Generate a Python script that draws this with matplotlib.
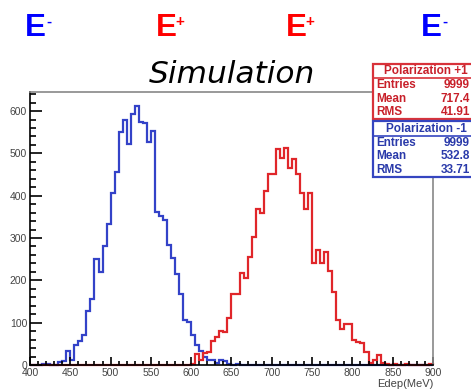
import numpy as np
import matplotlib
matplotlib.use("Agg")
import matplotlib.pyplot as plt
from matplotlib.patches import Rectangle

# histogram binning (Edep, MeV)
bin_lo, bin_hi, bin_w = 400, 900, 5

# Polarization -1 (blue), counts per 5 MeV bin starting at 415 MeV
blue_first = 415
blue_counts = [2, 3, 0, 0, 6, 9, 33, 11, 47, 57, 70, 127, 155, 250, 219, 281, 332,
               407, 455, 550, 578, 522, 593, 612, 574, 571, 528, 553, 361, 353,
               343, 284, 253, 216, 167, 107, 101, 71, 48, 33, 20, 12, 12, 4, 11,
               10, 2, 0, 3]

# Polarization +1 (red), counts per 5 MeV bin starting at 600 MeV
red_first = 600
red_counts = [2, 25, 12, 28, 30, 57, 67, 80, 78, 112, 168, 168, 217, 206, 255, 303,
              368, 358, 410, 451, 452, 510, 490, 513, 465, 487, 452, 407, 368, 407,
              241, 272, 242, 266, 221, 173, 106, 84, 97, 97, 58, 54, 52, 31, 4, 12,
              23, 5, 3, 1, 2, 1, 1, 2, 1, 1, 0, 1, 1, 3]

# stat boxes
stats_red = ("Polarization +1", [("Entries", "9999"), ("Mean", "717.4"), ("RMS", "41.91")])
stats_blue = ("Polarization -1", [("Entries", "9999"), ("Mean", "532.8"), ("RMS", "33.71")])

xticks = [400, 450, 500, 550, 600, 650, 700, 750, 800, 850, 900]
yticks = [0, 100, 200, 300, 400, 500, 600]

BLUE = "#3342c8"
RED = "#e0262a"

edges = np.arange(bin_lo, bin_hi + bin_w, bin_w)
nbins = len(edges) - 1


def full_hist(first, counts):
    h = np.zeros(nbins)
    i = (first - bin_lo) // bin_w
    h[i:i + len(counts)] = counts
    return h


W, H = 471, 391
fig = plt.figure(figsize=(W / 100, H / 100), dpi=100)
plt.rcParams['font.family'] = ['Liberation Sans', 'DejaVu Sans']

ax = fig.add_axes([30 / W, 1 - 365 / H, (433 - 30) / W, (365 - 92) / H])
ax.stairs(full_hist(blue_first, blue_counts), edges, color=BLUE, lw=1.6, clip_on=False)
ax.stairs(full_hist(red_first, red_counts), edges, color=RED, lw=1.6, clip_on=False)

ax.set_xlim(400, 900)
ax.set_ylim(0, 645)
ax.set_xticks(xticks)
ax.set_yticks(yticks)
ax.set_xticks(np.arange(400, 901, 10), minor=True)
ax.set_yticks(np.arange(0, 641, 20), minor=True)
ax.tick_params(axis='y', which='major', direction='in', length=8.5, width=1.2,
               labelsize=7.5, labelcolor='#444444', pad=2)
ax.tick_params(axis='y', which='minor', direction='in', length=4.5, width=1.2)
ax.tick_params(axis='x', which='major', direction='in', length=5.5, width=1.2,
               labelsize=7.5, labelcolor='#444444', pad=2)
ax.tick_params(axis='x', which='minor', direction='in', length=3, width=1.2)
for s in ('left', 'bottom'):
    ax.spines[s].set_color('black')
    ax.spines[s].set_linewidth(1.2)
for s in ('top', 'right'):
    ax.spines[s].set_color('#888888')
    ax.spines[s].set_linewidth(1.2)

fig.text(433 / W, 1 - 384 / H, "Edep(MeV)", ha='right', va='center', fontsize=8, color='#444444')

# header labels
def px(x, y):
    return x / W, 1 - y / H

for x0, sign, col in [(26, "-", "#0000ff"), (157, "+", "#ff0000"),
                      (287, "+", "#ff0000"), (422, "-", "#0000ff")]:
    fig.text(*px(x0 - 1, 36), "E", fontsize=22.5, fontweight='bold', color=col,
             ha='left', va='baseline')
    fig.text(*px(x0 + 23, 22), sign, fontsize=11, fontweight='bold', color=col,
             ha='center', va='center')

fig.text(*px(232, 83), "Simulation", fontsize=22.5, style='italic',
         family='DejaVu Sans', ha='center', va='baseline')

# stat boxes
def stat_box(top, bottom, sep, title, rows, col, txtcol):
    fig.patches.append(Rectangle(px(373, bottom), 110 / W, (bottom - top) / H,
                                 transform=fig.transFigure, fc='white', ec=col,
                                 lw=1.6, zorder=5))
    fig.lines.append(plt.Line2D([373 / W, 1], [1 - sep / H] * 2, transform=fig.transFigure,
                                color=col, lw=1.2, zorder=6))
    fig.text(*px(426, (top + sep) / 2), title, fontsize=8.5, fontweight='bold',
             color=txtcol, ha='center', va='center', zorder=7)
    step = (bottom - sep) / len(rows)
    for i, (k, v) in enumerate(rows):
        y = sep + step * (i + 0.5)
        fig.text(*px(376, y), k, fontsize=8.5, fontweight='bold', color=txtcol,
                 ha='left', va='center', zorder=7)
        fig.text(*px(470, y), v, fontsize=8.5, fontweight='bold', color=txtcol,
                 ha='right', va='center', zorder=7)

stat_box(64, 119, 78, stats_red[0], stats_red[1], '#d8323a', '#c8202a')
stat_box(121, 177, 136, stats_blue[0], stats_blue[1], '#3545c0', '#2a3aaa')

fig.savefig("out.png", dpi=100)
